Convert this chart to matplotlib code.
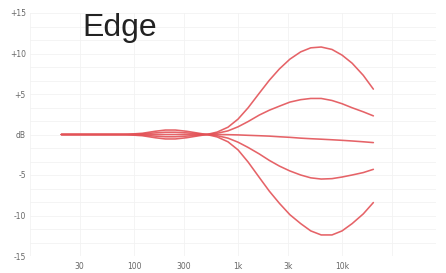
import matplotlib.pyplot as plt
from matplotlib.ticker import FixedLocator, NullFormatter

freqs = [20, 40, 80, 120, 160, 200, 250, 320, 400, 500, 630, 800, 1000,
         1250, 1600, 2000, 2500, 3150, 4000, 5000, 6300, 8000, 10000,
         12500, 16000, 20000]

# gain curves (dB)
boost_big = [0, 0, 0, -0.15, -0.4, -0.55, -0.55, -0.4, -0.2, 0, 0.3, 0.9, 1.9,
             3.3, 5.1, 6.7, 8.1, 9.3, 10.2, 10.7, 10.8, 10.5, 9.8, 8.8, 7.3, 5.6]
boost_small = [0, 0, 0, -0.08, -0.2, -0.28, -0.28, -0.2, -0.1, 0, 0.15, 0.45, 0.95,
               1.6, 2.4, 3.0, 3.5, 4.0, 4.3, 4.45, 4.45, 4.2, 3.8, 3.3, 2.8, 2.3]
flat = [0, 0, 0, 0, 0, 0, 0, 0, 0, 0, 0, -0.02, -0.05,
        -0.1, -0.15, -0.2, -0.28, -0.35, -0.45, -0.52, -0.58, -0.65, -0.72, -0.8, -0.9, -1.0]
cut_small = [0, 0, 0, 0.08, 0.2, 0.28, 0.28, 0.2, 0.1, 0, -0.15, -0.45, -0.95,
             -1.6, -2.4, -3.2, -3.9, -4.5, -5.0, -5.35, -5.5, -5.45, -5.25, -5.0, -4.7, -4.3]
cut_big = [0, 0, 0, 0.15, 0.4, 0.55, 0.55, 0.4, 0.2, 0, -0.3, -0.9, -1.9,
           -3.4, -5.3, -7.0, -8.5, -9.9, -11.0, -11.9, -12.4, -12.4, -11.9, -11.0, -9.8, -8.4]

x_ticks = [30, 100, 300, 1000, 3000, 10000]
x_labels = ["30", "100", "300", "1k", "3k", "10k"]
y_ticks = [15, 10, 5, 0, -5, -10, -15]
y_labels = ["+15", "+10", "+5", "dB", "-5", "-10", "-15"]

fig = plt.figure(figsize=(4.46, 2.73), dpi=100)
ax = fig.add_axes([30 / 446, 17 / 273, 406 / 446, 243 / 273])

for curve in [boost_big, boost_small, flat, cut_small, cut_big]:
    ax.plot(freqs, curve, color="#e35257", lw=1.15, alpha=0.9,
            solid_joinstyle="round", solid_capstyle="round")

ax.set_xscale("log")
ax.set_xlim(10, 80000)
ax.set_ylim(-15, 15)

ax.xaxis.set_major_locator(FixedLocator(x_ticks))
ax.set_xticklabels(x_labels)
ax.xaxis.set_minor_locator(FixedLocator([10, 30000]))
ax.xaxis.set_minor_formatter(NullFormatter())
ax.set_yticks(y_ticks)
ax.set_yticklabels(y_labels)
ax.yaxis.set_minor_locator(FixedLocator([v / 3 * 5 for v in range(-9, 10)]))

ax.grid(True, which="both", color="#f2f2f2", lw=0.6)
ax.set_axisbelow(True)
ax.tick_params(which="both", length=0, labelsize=5.5, labelcolor="#666666", pad=3)
ax.tick_params(axis="x", pad=4)
for s in ax.spines.values():
    s.set_visible(False)

ax.text(0.13, 1.0, "Edge", transform=ax.transAxes, fontsize=23,
        family="Liberation Sans", color="#222222", va="top", ha="left")

fig.savefig("out.png", dpi=100)
